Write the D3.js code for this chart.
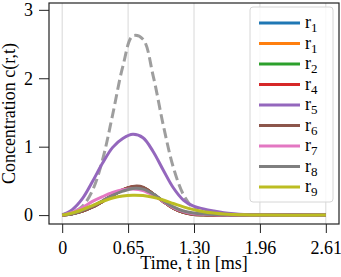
<!DOCTYPE html>
<html>
<head>
<meta charset="utf-8">
<script src="https://cdn.jsdelivr.net/npm/d3@7"></script>
<style>
  body { margin: 0; background: #fff; }
  svg text { font-family: "Liberation Serif", "Times New Roman", serif; }
</style>
</head>
<body>
<div id="chart"></div>
<script>
const times = [0, 0.1, 0.2, 0.3, 0.4, 0.5, 0.6, 0.7, 0.8, 0.9, 1.0, 1.1, 1.2, 1.3, 1.4, 1.5, 1.6, 1.7, 1.8, 1.9, 2.0, 2.61];

const reference = [0.01, 0.04, 0.13, 0.36, 0.81, 1.47, 2.17, 2.62, 2.57, 2.04, 1.32, 0.70, 0.30, 0.10, 0.03, 0.01, 0, 0, 0, 0, 0, 0];

const r1a = [0, 0.02, 0.06, 0.12, 0.20, 0.29, 0.37, 0.41, 0.40, 0.31, 0.20, 0.10, 0.04, 0.01, 0.004, 0, 0, 0, 0, 0, 0, 0];
const r1b = [0, 0.02, 0.06, 0.12, 0.20, 0.29, 0.37, 0.41, 0.40, 0.31, 0.20, 0.10, 0.04, 0.01, 0.004, 0, 0, 0, 0, 0, 0, 0];
const r2 = [0, 0.02, 0.06, 0.12, 0.20, 0.29, 0.37, 0.41, 0.40, 0.31, 0.20, 0.10, 0.04, 0.012, 0.004, 0, 0, 0, 0, 0, 0, 0];
const r4 = [0, 0.02, 0.06, 0.12, 0.20, 0.29, 0.37, 0.415, 0.40, 0.31, 0.20, 0.10, 0.04, 0.012, 0.004, 0, 0, 0, 0, 0, 0, 0];
const r5 = [0, 0.08, 0.24, 0.49, 0.76, 0.99, 1.12, 1.18, 1.13, 0.93, 0.66, 0.40, 0.22, 0.13, 0.09, 0.06, 0.035, 0.02, 0.01, 0.005, 0, 0];
const r6 = [0, 0.02, 0.06, 0.12, 0.20, 0.29, 0.37, 0.42, 0.41, 0.31, 0.20, 0.10, 0.04, 0.01, 0.005, 0, 0, 0, 0, 0, 0, 0];
const r7 = [0, 0.04, 0.11, 0.20, 0.27, 0.33, 0.37, 0.38, 0.36, 0.29, 0.20, 0.11, 0.05, 0.02, 0.01, 0.005, 0, 0, 0, 0, 0, 0];
const r8 = [0, 0.02, 0.07, 0.13, 0.21, 0.29, 0.35, 0.39, 0.38, 0.31, 0.21, 0.12, 0.06, 0.03, 0.015, 0.007, 0.003, 0, 0, 0, 0, 0];
const r9 = [0, 0.03, 0.08, 0.14, 0.20, 0.25, 0.28, 0.29, 0.285, 0.26, 0.22, 0.17, 0.12, 0.08, 0.05, 0.03, 0.015, 0.008, 0.004, 0.002, 0, 0];

const seriesValues = [r1a, r1b, r2, r4, r5, r6, r7, r8, r9];
const seriesNames = ["1", "1", "2", "4", "5", "6", "7", "8", "9"];
const colors = ["#1f77b4", "#ff7f0e", "#2ca02c", "#d62728", "#9467bd", "#8c564b", "#e377c2", "#7f7f7f", "#bcbd22"];

const xTicks = [0, 0.6525, 1.305, 1.9575, 2.61];
const xTickLabels = ["0", "0.65", "1.30", "1.96", "2.61"];
const yTicks = [0, 1, 2, 3];

const width = 341;
const height = 277;
const plotLeft = 49, plotRight = 339, plotTop = 3, plotBottom = 224;

const svg = d3.select("#chart")
  .append("svg")
  .attr("width", width)
  .attr("height", height);

const x = d3.scaleLinear()
  .domain([-0.1305, 2.7405])
  .range([plotLeft, plotRight]);

const y = d3.scaleLinear()
  .domain([-0.13, 3.1])
  .range([plotBottom, plotTop]);

// vertical grid
svg.append("g")
  .selectAll("line")
  .data(xTicks)
  .enter()
  .append("line")
  .attr("x1", d => x(d))
  .attr("x2", d => x(d))
  .attr("y1", plotTop)
  .attr("y2", plotBottom)
  .attr("stroke", "#d8d8d8")
  .attr("stroke-width", 1);

const line = d3.line()
  .x((d, i) => x(times[i]))
  .y(d => y(d))
  .curve(d3.curveCatmullRom.alpha(0.5));

svg.append("path")
  .datum(reference)
  .attr("d", line)
  .attr("fill", "none")
  .attr("stroke", "#9e9e9e")
  .attr("stroke-width", 3)
  .attr("stroke-dasharray", "10,4.5");

svg.selectAll("path.series")
  .data(seriesValues)
  .enter()
  .append("path")
  .attr("class", "series")
  .attr("d", line)
  .attr("fill", "none")
  .attr("stroke", (d, i) => colors[i])
  .attr("stroke-width", 3)
  .attr("stroke-linejoin", "round");

// axes
const xAxis = d3.axisBottom(x)
  .tickValues(xTicks)
  .tickFormat((d, i) => xTickLabels[i])
  .tickSizeOuter(0)
  .tickSize(9)
  .tickPadding(8);

const gx = svg.append("g")
  .attr("transform", `translate(0,${plotBottom})`)
  .call(xAxis);

const yAxis = d3.axisLeft(y)
  .tickValues(yTicks)
  .tickFormat(d3.format("d"))
  .tickSizeOuter(0)
  .tickSize(10)
  .tickPadding(6);

const gy = svg.append("g")
  .attr("transform", `translate(${plotLeft},0)`)
  .call(yAxis);

[gx, gy].forEach(g => {
  g.select(".domain").remove();
  g.selectAll(".tick line").attr("stroke", "#222").attr("stroke-width", 1);
  g.selectAll(".tick text")
    .attr("font-size", 18)
    .attr("fill", "#000")
    .attr("font-family", "Liberation Serif, serif");
});

svg.append("rect")
  .attr("x", plotLeft)
  .attr("y", plotTop)
  .attr("width", plotRight - plotLeft)
  .attr("height", plotBottom - plotTop)
  .attr("fill", "none")
  .attr("stroke", "#222")
  .attr("stroke-width", 1.2);

// legend
const legend = svg.append("g");

legend.append("rect")
  .attr("x", 250)
  .attr("y", 7)
  .attr("width", 83)
  .attr("height", 195)
  .attr("rx", 3)
  .attr("fill", "#fff")
  .attr("fill-opacity", 0.8)
  .attr("stroke", "#d6d6d6");

const rows = legend.selectAll("g.row")
  .data(seriesNames)
  .enter()
  .append("g")
  .attr("class", "row")
  .attr("transform", (d, i) => `translate(0,${23 + i * 20.5})`);

rows.append("line")
  .attr("x1", 259)
  .attr("x2", 300)
  .attr("stroke", (d, i) => colors[i])
  .attr("stroke-width", 3);

const labels = rows.append("text")
  .attr("x", 305)
  .attr("y", 5)
  .attr("font-size", 18)
  .attr("fill", "#000");

labels.append("tspan").text("r");
labels.append("tspan")
  .attr("font-size", 13)
  .attr("dy", 4)
  .text(d => d);

// axis labels
svg.append("text")
  .attr("x", (plotLeft + plotRight) / 2)
  .attr("y", 269)
  .attr("text-anchor", "middle")
  .attr("font-size", 18)
  .text("Time, t in [ms]");

svg.append("text")
  .attr("transform", `translate(15,${(plotTop + plotBottom) / 2}) rotate(-90)`)
  .attr("text-anchor", "middle")
  .attr("font-size", 18)
  .text("Concentration c(r,t)");
</script>
</body>
</html>
